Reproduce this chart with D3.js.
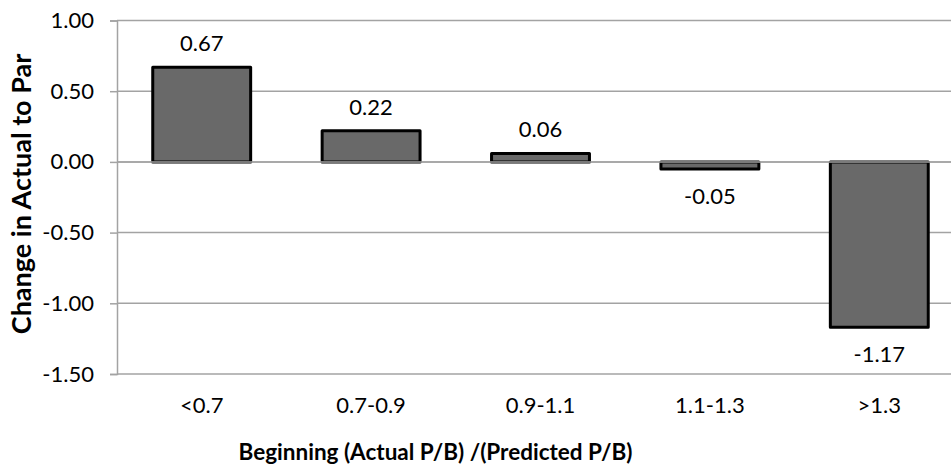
<!DOCTYPE html>
<html>
<head>
<meta charset="utf-8">
<script src="https://cdn.jsdelivr.net/npm/d3@7"></script>
<style>
  html, body { margin: 0; padding: 0; background: #fff; }
  svg { display: block; }
  text { font-family: Lato, "Open Sans", sans-serif; fill: #000; }
</style>
</head>
<body>
<script>
// Change in actual-to-par by beginning P/B ratio bucket
const categories = ["<0.7", "0.7-0.9", "0.9-1.1", "1.1-1.3", ">1.3"];
const values = [0.67, 0.22, 0.06, -0.05, -1.17];
const yTicks = [1.0, 0.5, 0.0, -0.5, -1.0, -1.5];

const width = 951, height = 465;
const plot = { left: 117, right: 964, top: 20.5, bottom: 374 };
const fmt = d => d3.format(".2f")(d).replace("\u2212", "-");

const svg = d3.select("body").append("svg")
  .attr("width", width).attr("height", height);

const x = d3.scaleBand()
  .domain(categories)
  .range([plot.left, plot.right])
  .paddingInner(0.422)
  .paddingOuter(0.211);

const y = d3.scaleLinear()
  .domain([-1.5, 1.0])
  .range([plot.bottom, plot.top]);

const gridColor = "#a3a3a3";

// horizontal gridlines
svg.append("g")
  .selectAll("line")
  .data(yTicks)
  .join("line")
  .attr("x1", plot.left).attr("x2", plot.right)
  .attr("y1", d => y(d)).attr("y2", d => y(d))
  .attr("stroke", gridColor).attr("stroke-width", 1.5);

// value axis with outward ticks
const yAxis = svg.append("g")
  .attr("transform", `translate(${plot.left},0)`)
  .call(d3.axisLeft(y).tickValues(yTicks).tickFormat(fmt).tickSize(7).tickPadding(16));
yAxis.select(".domain").attr("stroke", gridColor).attr("stroke-width", 1.5);
yAxis.selectAll(".tick line").attr("stroke", gridColor).attr("stroke-width", 1.5);
yAxis.selectAll(".tick text")
  .attr("font-size", 22).attr("font-family", "Lato, sans-serif").attr("fill", "#000");

// bars
svg.append("g")
  .selectAll("rect")
  .data(values)
  .join("rect")
  .attr("x", (d, i) => x(categories[i]))
  .attr("width", x.bandwidth())
  .attr("y", d => y(Math.max(0, d)))
  .attr("height", d => Math.abs(y(d) - y(0)))
  .attr("fill", "#696969")
  .attr("stroke", "#000")
  .attr("stroke-width", 3)
  .attr("stroke-linejoin", "round");

// category axis line at zero, drawn over the bars
svg.append("line")
  .attr("x1", plot.left).attr("x2", plot.right)
  .attr("y1", y(0)).attr("y2", y(0))
  .attr("stroke", gridColor).attr("stroke-width", 1.5);

// value labels
svg.append("g")
  .selectAll("text")
  .data(values)
  .join("text")
  .attr("x", (d, i) => x(categories[i]) + x.bandwidth() / 2)
  .attr("y", d => d >= 0 ? y(d) - 16 : y(d) + 35)
  .attr("text-anchor", "middle")
  .attr("font-size", 22)
  .text(fmt);

// category labels
svg.append("g")
  .selectAll("text")
  .data(categories)
  .join("text")
  .attr("x", d => x(d) + x.bandwidth() / 2)
  .attr("y", 413)
  .attr("text-anchor", "middle")
  .attr("font-size", 22)
  .text(d => d);

// axis titles
svg.append("text")
  .attr("x", 435.5).attr("y", 460)
  .attr("text-anchor", "middle")
  .attr("font-size", 22.5).attr("font-weight", "bold")
  .text("Beginning (Actual P/B) /(Predicted P/B)");

svg.append("text")
  .attr("transform", "translate(31,194) rotate(-90)")
  .attr("text-anchor", "middle")
  .attr("font-size", 27).attr("font-weight", "bold")
  .text("Change in Actual to Par");
</script>
</body>
</html>
